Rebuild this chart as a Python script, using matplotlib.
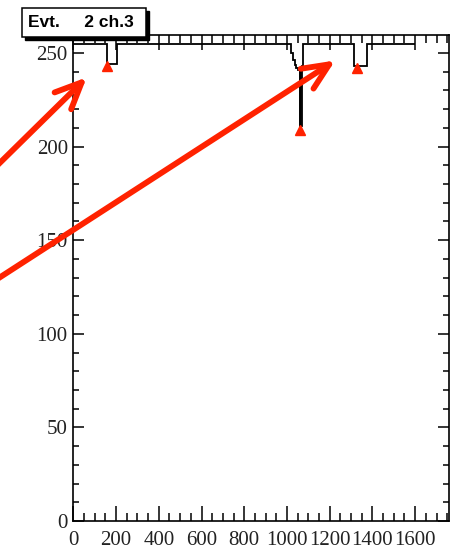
import matplotlib
matplotlib.use("Agg")
import matplotlib.pyplot as plt
from matplotlib.patches import Rectangle
import numpy as np

# step histogram: bin edges and contents (ADC counts)
edges = [0, 159, 203, 1021, 1029, 1037, 1044, 1052, 1063, 1072, 1077, 1315, 1374, 1600]
counts = [255, 244, 255, 250, 246, 243.5, 242, 241, 211, 243, 255, 243, 255]

# found peaks (TSpectrum style markers)
peak_x = [156, 1060, 1327]
peak_y = [243, 209, 242]

# arrows pointing at the peaks (tail -> head, data coords)
arrow_tail = [(-400, 185), (-400, 126)]
arrow_head = [(63, 237), (1226, 246)]

title_text = "Evt.     2 ch.3"
red = "#ff2200"

fig = plt.figure(figsize=(4.62, 5.54), dpi=100)
ax = fig.add_axes([0.1587, 0.0596, 0.8139, 0.8772])

ax.stairs(counts, edges, color="black", lw=1.3, baseline=None)
# the deep one is drawn thicker in the reference
ax.plot([edges[8], edges[8]], [counts[7], counts[8]], color="black", lw=1.8)
ax.plot(peak_x, peak_y, "^", color=red, ms=7.5, mec=red, ls="none", zorder=5)

ax.set_xlim(0, 1760)
ax.set_ylim(0, 259.6)
ax.set_xticks(np.arange(0, 1601, 200))
ax.set_xticks(np.arange(0, 1751, 50), minor=True)
ax.set_yticks(np.arange(0, 251, 50))
ax.set_yticks(np.arange(0, 260, 10), minor=True)

for s in ax.spines.values():
    s.set_linewidth(1.2)

ax.tick_params(axis="both", which="both", direction="in", top=True, right=True,
               width=1.1, labelsize=15, colors="black")
ax.tick_params(axis="x", which="major", length=10.8, pad=7.5)
ax.tick_params(axis="x", which="minor", length=5.8)
ax.tick_params(axis="y", which="major", length=8, pad=4)
ax.tick_params(axis="y", which="minor", length=4.4)
for lab in ax.get_xticklabels() + ax.get_yticklabels():
    lab.set_family("Liberation Serif")
    lab.set_color("#222222")

for (tx, ty), (hx, hy) in zip(arrow_tail, arrow_head):
    ax.annotate("", xy=(hx, hy), xytext=(tx, ty), annotation_clip=False,
                arrowprops=dict(arrowstyle="->,head_length=1.9,head_width=0.85",
                                color=red, lw=4.2, shrinkA=0, shrinkB=0,
                                mutation_scale=10, capstyle="round"),
                zorder=10)

# title pave with shadow
W, H = 462, 554
bx0, by0, bw, bh = 22, 8, 124, 29
fig.add_artist(Rectangle(((bx0 + 3) / W, 1 - (by0 + bh + 3) / H), bw / W, bh / H,
                         transform=fig.transFigure, facecolor="black", edgecolor="black", lw=1))
fig.add_artist(Rectangle((bx0 / W, 1 - (by0 + bh) / H), bw / W, bh / H,
                         transform=fig.transFigure, facecolor="white", edgecolor="black", lw=1.1))
fig.text((bx0 + 6) / W, 1 - (by0 + bh / 2) / H, title_text, ha="left", va="center",
         fontsize=12.5, fontweight="bold", family="Liberation Sans")

fig.savefig("out.png", dpi=100)
